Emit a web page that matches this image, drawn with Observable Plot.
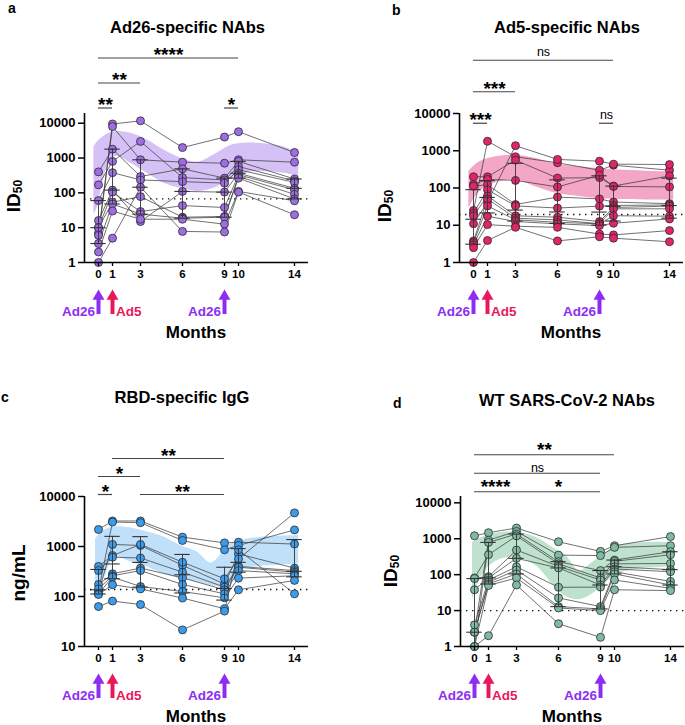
<!DOCTYPE html>
<html>
<head>
<meta charset="utf-8">
<script src="https://cdn.jsdelivr.net/npm/d3@7"></script>
<script src="https://cdn.jsdelivr.net/npm/@observablehq/plot@0.6"></script>
<style>
  body { margin: 0; background: #fff; }
  #root { position: relative; width: 685px; height: 725px; overflow: hidden;
          font-family: "Liberation Sans", Arial, Helvetica, sans-serif; color: #000; background: #fff; }
  .abs { position: absolute; white-space: nowrap; line-height: 0.8; }
  .letter { font-weight: bold; font-size: 14px; }
  .title { font-weight: bold; font-size: 16.5px; transform: translateX(-50%); }
  .ylab { font-weight: bold; font-size: 19px; line-height: 1; transform: translate(-50%, -50%) rotate(-90deg); }
  .ylab sub { font-size: 12px; vertical-align: -2px; line-height: 1; }
  .months { font-weight: bold; font-size: 17px; transform: translateX(-50%); }
  svg { overflow: visible; }
</style>
</head>
<body>
<div id="root"></div>
<script>
// ---------- shared data ----------
const times = [0, 1, 3, 6, 9, 10, 14];
const vaccineTimes = [0, 1, 9];
const vaccineNames = ["Ad26", "Ad5", "Ad26"];

// ---------- panel a: Ad26-specific NAbs ----------
const aTitle = "Ad26-specific NAbs";
const aYTicks = [1, 10, 100, 1000, 10000];
const aThreshold = 67;
const aParticipants = [
  [7, 9500, 11700, 2000, 4000, 5700, 1440],
  [6, 8000, 890, 760, 710, 890, 760],
  [400, 1800, 295, 490, 265, 800, 250],
  [170, 800, 3000, 275, 235, 570, 220],
  [60, 380, 235, 210, 190, 460, 200],
  [16, 120, 15, 110, 105, 365, 135],
  [10, 105, 29, 43, 38, 330, 122],
  [10, 54, 78, 20, 21, 295, 91],
  [3.5, 48, 24.5, 18.7, 20, 265, 67],
  [2, 30, 17.5, 17.5, 12.6, 110, 59],
  [1, 5, 145, 7.8, 7.5, 105, 23.5]
];
const aBandT  = [-0.33, -0.1, 0.3, 0.8, 1.3, 2.3, 3.48, 4.67, 5.86, 7.05, 8.24, 9.43, 10.6, 12.05, 13.5, 14.3];
const aBandHi = [2000, 2820, 3980, 5250, 5750, 5130, 3310, 1700, 1000, 760, 1230, 2290, 2690, 2510, 1910, 1230];
const aBandLo = [24.5, 35.5, 200, 795, 1120, 710, 363, 190, 135, 110, 135, 251, 380, 407, 355, 282];
const aSigFrom  = [0, 0, 0, 9];
const aSigTo    = [1, 3, 10, 10];
const aSigLabel = ["**", "**", "****", "*"];
const aSigRow   = [1, 2, 3, 1];

// ---------- panel b: Ad5-specific NAbs ----------
const bTitle = "Ad5-specific NAbs";
const bYTicks = [1, 10, 100, 1000, 10000];
const bThreshold = 19.5;
const bParticipants = [
  [25, 1800, 690, 475, 300, 410, 300],
  [200, 200, 560, 185, 190, 113, 210],
  [125, 170, 160, 107, 220, 110, 107],
  [112, 123, 36, 57, 51, 42, 38],
  [11, 42, 1370, 585, 525, 437, 426],
  [21, 90, 33, 29, 32.6, 34, 35],
  [18, 61, 18, 16.4, 12.6, 30, 32.6],
  [3.8, 51, 15.5, 13.9, 11, 27.6, 27.6],
  [3.4, 33, 14, 12, 10.9, 18, 17.5],
  [3, 17.5, 12.6, 10.9, 9.8, 11.3, 14.8],
  [2.5, 10.4, 9.4, 8.8, 5.8, 5.5, 7.2],
  [1, 3.9, 8.8, 3.8, 4.9, 4.5, 3.6]
];
const bBandT  = [-0.33, 0.41, 1.6, 3.04, 4.47, 6.0, 7.55, 9.0, 10.4, 12.3, 14.3];
const bBandHi = [282, 501, 692, 759, 617, 427, 372, 331, 302, 282, 269];
const bBandLo = [27.5, 77.6, 138, 162, 107, 70.8, 58.9, 51.3, 49, 47.9, 47.9];
const bSigFrom  = [0, 9, 0, 0];
const bSigTo    = [1, 10, 3, 10];
const bSigLabel = ["***", "ns", "***", "ns"];
const bSigRow   = [1, 1, 2, 3];

// ---------- panel c: RBD-specific IgG ----------
const cTitle = "RBD-specific IgG";
const cYTicks = [10, 100, 1000, 10000];
const cThreshold = 138;
const cParticipants = [
  [2190, 3240, 3240, 1540, 1180, 1220, 1120],
  [130, 3080, 3000, 1320, 860, 1050, 2150],
  [122, 1100, 1050, 420, 178, 710, 370],
  [400, 660, 1100, 485, 226, 565, 4700],
  [330, 610, 590, 307, 154, 400, 330],
  [174, 285, 370, 237, 136, 385, 307],
  [142, 260, 330, 174, 113, 330, 285],
  [113, 245, 158, 126, 94, 233, 260],
  [110, 172, 142, 93, 57, 136, 210],
  [63, 81, 69, 21.5, 51, 860, 113]
];
const cBandT  = [-0.21, 0.38, 1.1, 2.29, 3.48, 4.67, 5.86, 7.05, 8.0, 8.48, 9.19, 10.14, 11.1, 12.5, 14.3];
const cBandHi = [1413, 2089, 2455, 2344, 1950, 1549, 1047, 776, 468, 562, 1000, 1318, 1479, 1585, 1660];
const cBandLo = [166, 224, 617, 490, 389, 282, 224, 195, 166, 158, 155, 331, 389, 417, 447];
const cSigFrom  = [0, 3, 0, 1];
const cSigTo    = [1, 9, 3, 9];
const cSigLabel = ["*", "**", "*", "**"];
const cSigRow   = [1, 1, 2, 3];

// ---------- panel d: WT SARS-CoV-2 NAbs ----------
const dTitle = "WT SARS-CoV-2 NAbs";
const dYTicks = [1, 10, 100, 1000, 10000];
const dThreshold = 10;
const dParticipants = [
  [1210, 1470, 1990, 825, 445, 640, 1150],
  [2.5, 915, 1600, 350, 340, 575, 640],
  [1, 790, 1350, 230, 130, 255, 435],
  [81, 360, 1200, 200, 81, 235, 360],
  [78, 88, 485, 170, 71, 200, 205],
  [38, 81, 285, 154, 51.5, 166, 138],
  [4, 71, 166, 44.5, 45, 144, 121],
  [2.5, 61, 135, 22.5, 12.9, 120, 65],
  [2.5, 55, 105, 12.9, 11.1, 105, 51.5],
  [1, 50, 81, 11.8, 10, 71, 41.6],
  [1, 2, 51.5, 4.3, 1.8, 38, 36]
];
const dBandT  = [-0.14, 0.57, 1.52, 2.95, 4.38, 5.57, 6.52, 7.48, 8.43, 9.38, 10.33, 11.76, 13.19, 14.0];
const dBandHi = [794, 1096, 1413, 1514, 1096, 575, 339, 129, 219, 417, 646, 759, 794, 759];
const dBandLo = [20, 100, 234, 302, 178, 55, 24.5, 20, 28.8, 61.7, 105, 145, 158, 166];
const dSigFrom  = [0, 3, 0, 0];
const dSigTo    = [3, 9, 9, 10];
const dSigLabel = ["****", "*", "ns", "**"];
const dSigRow   = [1, 1, 2, 3];

// ---------- styles ----------
const FONT = '"Liberation Sans", Arial, Helvetica, sans-serif';
const vaccineColor = {Ad26: "#8E2CF3", Ad5: "#E8185C"};

// Prism-style quantile (position p*(n+1))
function pq(sorted, p) {
  const n = sorted.length;
  let pos = p * (n + 1);
  pos = Math.max(1, Math.min(n, pos));
  const lo = Math.floor(pos), f = pos - lo;
  const a = sorted[lo - 1], b = sorted[Math.min(lo, n - 1)];
  return a + f * (b - a);
}

const root = document.getElementById("root");
function place(el, left, top) {
  el.style.position = "absolute";
  el.style.left = left + "px";
  el.style.top = top + "px";
  root.appendChild(el);
}
function addText(cls, html, x, baseline, fs) {
  const d = document.createElement("div");
  d.className = "abs " + cls;
  d.innerHTML = html;
  d.style.left = x + "px";
  d.style.top = (baseline - 0.7465 * fs) + "px";
  root.appendChild(d);
}
function addYLabel(html, cx, cy) {
  const d = document.createElement("div");
  d.className = "abs ylab";
  d.innerHTML = html;
  d.style.left = cx + "px";
  d.style.top = cy + "px";
  root.appendChild(d);
}

function drawPanel(P) {
  const xDomain = [-1, 15];
  const mL = P.x0px - P.left, mR = P.left + P.width - P.x1px;
  const frameH = P.frameBottom - P.frameTop;

  const rows = [];
  P.participants.forEach((vals, i) => vals.forEach((v, j) => rows.push({id: i, t: times[j], v})));
  const stats = times.map((t, j) => {
    const s = P.participants.map(p => p[j]).sort((a, b) => a - b);
    return {t, q1: pq(s, 0.25), med: pq(s, 0.5), q3: pq(s, 0.75)};
  });
  const bars = stats.flatMap(s => [{t: s.t, v: s.q1}, {t: s.t, v: s.med}, {t: s.t, v: s.q3}]);
  const band = P.bandT.map((t, i) => ({t, lo: P.bandLo[i], hi: P.bandHi[i]}));

  const mTop = 12, mBot = 24;
  const main = Plot.plot({
    width: P.width, height: mTop + frameH + mBot,
    marginLeft: mL, marginRight: mR, marginTop: mTop, marginBottom: mBot,
    x: {domain: xDomain},
    y: {type: "log", domain: P.yDomain},
    style: {fontFamily: FONT, background: "transparent", color: "#000", overflow: "visible"},
    marks: [
      Plot.areaY(band, {x: "t", y1: "lo", y2: "hi", fill: P.bandColor, curve: "catmull-rom"}),
      Plot.ruleY([P.threshold], {x1: xDomain[0], x2: xDomain[1], stroke: "#111", strokeWidth: 1.4, strokeDasharray: "1.4,4.6"}),
      Plot.line(rows, {x: "t", y: "v", z: "id", stroke: "#333", strokeWidth: 0.7}),
      Plot.dot(rows, {x: "t", y: "v", r: 4, fill: P.dotColor, stroke: "#2a2a2a", strokeWidth: 0.8}),
      Plot.ruleX(stats, {x: "t", y1: "q1", y2: "q3", stroke: "#333", strokeWidth: 0.9}),
      Plot.ruleY(bars, {x1: d => d.t - 0.55, x2: d => d.t + 0.55, y: "v", stroke: "#333", strokeWidth: 1.1}),
      Plot.ruleX([xDomain[0]], {y1: P.yDomain[0], y2: P.yDomain[1], stroke: "#000", strokeWidth: 1.6}),
      Plot.ruleY([P.yDomain[0]], {x1: xDomain[0], x2: xDomain[1], stroke: "#000", strokeWidth: 1.6}),
      Plot.axisY({ticks: P.yTicks, tickFormat: d3.format("d"), tickSize: 6, tickPadding: 3,
                  fontSize: 13, fontWeight: "bold", strokeWidth: 1.5, label: null}),
      Plot.axisX({ticks: times, tickFormat: d => String(d), tickSize: 4, tickPadding: 3,
                  fontSize: 11.5, fontWeight: "bold", strokeWidth: 1.3, label: null})
    ]
  });
  place(main, P.left, P.frameTop - mTop);

  // significance bars
  const sig = P.sigFrom.map((f, i) => ({from: f, to: P.sigTo[i], label: P.sigLabel[i], row: P.sigRow[i]}));
  const gap = P.rowGap, sTop = 24;
  const sigPlot = Plot.plot({
    width: P.width, height: sTop + 3 * gap,
    marginLeft: mL, marginRight: mR, marginTop: sTop, marginBottom: 0,
    x: {domain: xDomain, axis: null},
    y: {domain: [0.5, 3.5], axis: null},
    style: {fontFamily: FONT, background: "transparent", color: "#000", overflow: "visible"},
    marks: [
      Plot.ruleY(sig, {x1: "from", x2: "to", y: "row", stroke: "#444", strokeWidth: 1.2}),
      Plot.text(sig.filter(d => d.label.includes("*")), {x: d => (d.from + d.to) / 2, y: "row", text: "label",
        fontSize: 19, fontWeight: "bold", dy: P.starDy ?? -3, fill: "#000"}),
      Plot.text(sig.filter(d => !d.label.includes("*")), {x: d => (d.from + d.to) / 2, y: "row", text: "label",
        fontSize: 12.5, fontWeight: "normal", dy: P.nsDy ?? -8.5, fill: "#000"})
    ]
  });
  place(sigPlot, P.left, P.row1Line - sTop - 2.5 * gap);

  // vaccination arrows
  const vacc = vaccineTimes.map((t, i) => ({t, name: vaccineNames[i]}));
  const arrowH = 26;
  const arrows = Plot.plot({
    width: P.width, height: arrowH,
    marginLeft: mL, marginRight: mR, marginTop: 0, marginBottom: 0,
    x: {domain: xDomain, axis: null},
    y: {domain: [0, 1], axis: null},
    color: {type: "identity"},
    style: {fontFamily: FONT, background: "transparent", overflow: "visible"},
    marks: [
      Plot.ruleX(vacc, {x: "t", y1: 0, y2: 0.62, stroke: d => vaccineColor[d.name], strokeWidth: 4}),
      Plot.dot(vacc, {x: "t", y: 0.7, symbol: "triangle", r: 4.4, fill: d => vaccineColor[d.name], stroke: null}),
      Plot.text(vacc.filter(d => d.name !== "Ad5"), {x: "t", y: 0, text: "name", textAnchor: "end", lineAnchor: "bottom",
        dx: -3.5, dy: 1, fontSize: 13.5, fontWeight: "bold", fill: d => vaccineColor[d.name]}),
      Plot.text(vacc.filter(d => d.name === "Ad5"), {x: "t", y: 0, text: "name", textAnchor: "start", lineAnchor: "bottom",
        dx: 3.5, dy: 1, fontSize: 13.5, fontWeight: "bold", fill: d => vaccineColor[d.name]})
    ]
  });
  place(arrows, P.left, P.frameBottom + 26);

  // text
  addText("letter", P.letter, P.letterX, P.letterBase, 14);
  addText("title", P.title, P.titleX, P.titleBase, 16.5);
  addYLabel(P.yLabel, P.yLabelX, P.yLabelY);
  addText("months", "Months", (P.x0px + P.x1px) / 2, Math.min(P.frameBottom + 77, 722.5), 17);
}

drawPanel({
  letter: "a", letterX: 8, letterBase: 13,
  title: aTitle, titleX: 187.5, titleBase: 33.5,
  yLabel: "ID<sub>50</sub>", yLabelX: 14, yLabelY: 196,
  left: 0, width: 342, x0px: 84, x1px: 308, frameTop: 113, frameBottom: 262,
  yDomain: [1, 19000], yTicks: aYTicks, threshold: aThreshold, participants: aParticipants,
  bandT: aBandT, bandLo: aBandLo, bandHi: aBandHi,
  sigFrom: aSigFrom, sigTo: aSigTo, sigLabel: aSigLabel, sigRow: aSigRow, row1Line: 107, rowGap: 25,
  dotColor: "#9E6CE3", bandColor: "#D5C1F6"
});
drawPanel({
  letter: "b", letterX: 392, letterBase: 15,
  title: bTitle, titleX: 567, titleBase: 33.5,
  yLabel: "ID<sub>50</sub>", yLabelX: 385, yLabelY: 206,
  left: 342, width: 343, x0px: 459, x1px: 683, frameTop: 113, frameBottom: 262,
  yDomain: [1, 10000], yTicks: bYTicks, threshold: bThreshold, participants: bParticipants,
  bandT: bBandT, bandLo: bBandLo, bandHi: bBandHi,
  sigFrom: bSigFrom, sigTo: bSigTo, sigLabel: bSigLabel, sigRow: bSigRow, row1Line: 123, rowGap: 31.5,
  dotColor: "#E0256B", bandColor: "#F3A6C6"
});
drawPanel({
  letter: "c", letterX: 1, letterBase: 402,
  title: cTitle, titleX: 182, titleBase: 403.5,
  yLabel: "ng/mL", yLabelX: 17.5, yLabelY: 573,
  left: 0, width: 342, x0px: 84, x1px: 308, frameTop: 496, frameBottom: 646,
  yDomain: [10, 10000], yTicks: cYTicks, threshold: cThreshold, participants: cParticipants,
  bandT: cBandT, bandLo: cBandLo, bandHi: cBandHi,
  sigFrom: cSigFrom, sigTo: cSigTo, sigLabel: cSigLabel, sigRow: cSigRow, row1Line: 494, rowGap: 18,
  dotColor: "#3C9CEC", bandColor: "#C0DFF9"
});
drawPanel({
  letter: "d", letterX: 393, letterBase: 408,
  title: dTitle, titleX: 567, titleBase: 406.8,
  yLabel: "ID<sub>50</sub>", yLabelX: 391, yLabelY: 571,
  left: 342, width: 343, x0px: 460, x1px: 684, frameTop: 496, frameBottom: 646,
  yDomain: [1, 15000], yTicks: dYTicks, threshold: dThreshold, participants: dParticipants,
  bandT: dBandT, bandLo: dBandLo, bandHi: dBandHi,
  sigFrom: dSigFrom, sigTo: dSigTo, sigLabel: dSigLabel, sigRow: dSigRow, row1Line: 491, rowGap: 18.5,
  starDy: -4.5, nsDy: -5.5,
  dotColor: "#7FBAA2", bandColor: "#BEE2CE"
});
</script>
</body>
</html>
